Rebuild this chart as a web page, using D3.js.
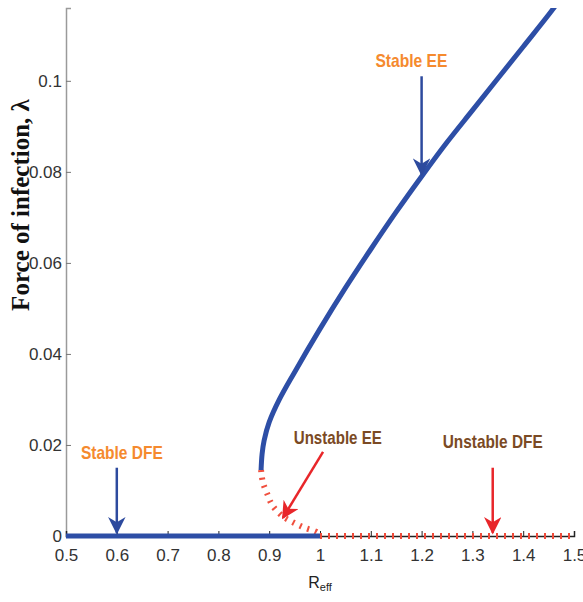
<!DOCTYPE html>
<html>
<head>
<meta charset="utf-8">
<script src="https://cdn.jsdelivr.net/npm/d3@7"></script>
<style>
  body { margin: 0; background: #fff; }
  .tick text { font-family: "Liberation Sans", Arial, sans-serif; font-size: 17px; fill: #333; }
  .note { font-family: "Liberation Sans", Arial, sans-serif; font-size: 19px; font-weight: bold; }
</style>
</head>
<body>
<svg id="chart" width="583" height="602"></svg>
<script>
// tick values
var xTicks = [0.5, 0.6, 0.7, 0.8, 0.9, 1, 1.1, 1.2, 1.3, 1.4, 1.5];
var yTicks = [0, 0.02, 0.04, 0.06, 0.08, 0.1];

// stable endemic equilibrium (upper branch)
var stableEE_R = [0.884, 0.886, 0.890, 0.900, 0.920, 0.950, 1.000, 1.050, 1.100, 1.150, 1.200, 1.250, 1.300, 1.350, 1.400, 1.450, 1.480];
var stableEE_L = [0.0145, 0.0180, 0.0210, 0.0250, 0.0300, 0.0360, 0.0455, 0.0545, 0.0630, 0.0712, 0.0790, 0.0865, 0.0935, 0.1005, 0.1075, 0.1145, 0.1190];

// unstable endemic equilibrium (lower branch)
var unstableEE_R = [0.884, 0.885, 0.888, 0.896, 0.907, 0.927, 0.947, 0.970, 0.994, 1.0];
var unstableEE_L = [0.0145, 0.0135, 0.0116, 0.0093, 0.0066, 0.0043, 0.0030, 0.0018, 0.0008, 0];

// disease free equilibrium
var stableDFE_R = [0.5, 1.0];
var unstableDFE_R = [1.0, 1.5];

// annotations: label, width, position, arrow start / end (data units)
var notes = [
    {text: 'Stable EE', width: 72, color: '#f58a2e', x: 1.18, y: 0.1046, arrow: '#2d4a9e', from: [1.2, 0.101], to: [1.2, 0.0795]},
    {text: 'Stable DFE', width: 82, color: '#f58a2e', x: 0.61, y: 0.0183, arrow: '#2d4a9e', from: [0.6, 0.0150], to: [0.6, 0.0007]},
    {text: 'Unstable EE', width: 88, color: '#7b4a24', x: 1.035, y: 0.0217, arrow: '#e8262a', from: [1.006, 0.0185], to: [0.927, 0.0040]},
    {text: 'Unstable DFE', width: 100, color: '#7b4a24', x: 1.34, y: 0.0207, arrow: '#e8262a', from: [1.34, 0.0150], to: [1.34, 0.0007]}
];

var svg = d3.select('#chart');

var x = d3.scaleLinear().domain([0.5, 1.5]).range([66, 574]);
var y = d3.scaleLinear().domain([0, 0.116]).range([536, 8]);

function pairs(rs, ls) {
    return rs.map(function (r, i) { return [r, ls[i]]; });
}

var line = d3.line()
    .x(function (d) { return x(d[0]); })
    .y(function (d) { return y(d[1]); });

var curve = d3.line()
    .curve(d3.curveCatmullRom.alpha(0.5))
    .x(function (d) { return x(d[0]); })
    .y(function (d) { return y(d[1]); });

// clip to the plot box
var defs = svg.append('defs');
defs.append('clipPath').attr('id', 'plot')
    .append('rect')
    .attr('x', 60).attr('y', 8)
    .attr('width', 520).attr('height', 540);

// y axis, ticks inside
var yAxis = svg.append('g')
    .attr('transform', 'translate(66,0)')
    .call(d3.axisRight(y).tickValues(yTicks).tickSize(5).tickFormat(d3.format('')));
yAxis.select('.domain').attr('stroke', '#9a9a9a').attr('stroke-width', 1.5);
yAxis.selectAll('.tick line').attr('stroke', '#777');
yAxis.selectAll('.tick text')
    .attr('x', -4)
    .attr('text-anchor', 'end');

// x axis, ticks inside
var xAxis = svg.append('g')
    .attr('transform', 'translate(0,536)')
    .call(d3.axisTop(x).tickValues(xTicks).tickSize(5).tickFormat(d3.format('')));
xAxis.select('.domain').attr('stroke', '#222').attr('stroke-width', 1.5);
xAxis.selectAll('.tick line').attr('stroke', '#222');
xAxis.selectAll('.tick text')
    .attr('y', 20)
    .attr('dy', '0.32em');

var plot = svg.append('g').attr('clip-path', 'url(#plot)');

// unstable branches, red dashes
plot.append('path')
    .datum(pairs(unstableDFE_R, [0, 0]))
    .attr('d', line)
    .attr('fill', 'none')
    .attr('stroke', '#f04a3a')
    .attr('stroke-width', 6)
    .attr('stroke-dasharray', '2,6');

plot.append('path')
    .datum(pairs(unstableEE_R, unstableEE_L))
    .attr('d', curve)
    .attr('fill', 'none')
    .attr('stroke', '#f0503f')
    .attr('stroke-width', 6)
    .attr('stroke-dasharray', '2,6');

// stable branches, thick blue
plot.append('path')
    .datum(pairs(stableDFE_R, [0, 0]))
    .attr('d', line)
    .attr('fill', 'none')
    .attr('stroke', '#2d4ea6')
    .attr('stroke-width', 5);

plot.append('path')
    .datum(pairs(stableEE_R, stableEE_L))
    .attr('d', curve)
    .attr('fill', 'none')
    .attr('stroke', '#2d4ea6')
    .attr('stroke-width', 5)
    .attr('stroke-linecap', 'butt');

// annotations with arrows
notes.forEach(function (n, i) {
    defs.append('marker')
        .attr('id', 'head' + i)
        .attr('viewBox', '0 0 10 10')
        .attr('refX', 9).attr('refY', 5)
        .attr('markerWidth', 9).attr('markerHeight', 7)
        .attr('markerUnits', 'strokeWidth')
        .attr('orient', 'auto')
        .append('path')
        .attr('d', 'M0,0 L10,5 L0,10 L3,5 Z')
        .attr('fill', n.arrow);

    svg.append('line')
        .attr('x1', x(n.from[0])).attr('y1', y(n.from[1]))
        .attr('x2', x(n.to[0])).attr('y2', y(n.to[1]))
        .attr('stroke', n.arrow)
        .attr('stroke-width', 2.5)
        .attr('marker-end', 'url(#head' + i + ')');

    svg.append('text')
        .attr('class', 'note')
        .attr('x', x(n.x) - n.width / 2).attr('y', y(n.y))
        .attr('dy', '0.35em')
        .attr('textLength', n.width)
        .attr('lengthAdjust', 'spacingAndGlyphs')
        .attr('fill', n.color)
        .text(n.text);
});

// axis titles
var xt = svg.append('text')
    .attr('x', 320).attr('y', 588)
    .attr('text-anchor', 'middle')
    .style('font-family', '"Liberation Sans", Arial, sans-serif')
    .style('font-size', '16px')
    .attr('fill', '#222');
xt.append('tspan').text('R');
xt.append('tspan').attr('dy', 3).style('font-size', '11px').text('eff');

svg.append('text')
    .attr('transform', 'translate(29,205) rotate(-90)')
    .attr('text-anchor', 'middle')
    .style('font-family', '"Liberation Serif", "Times New Roman", serif')
    .style('font-size', '25px')
    .style('font-weight', 'bold')
    .attr('fill', '#111')
    .text('Force of infection, λ');
</script>
</body>
</html>
